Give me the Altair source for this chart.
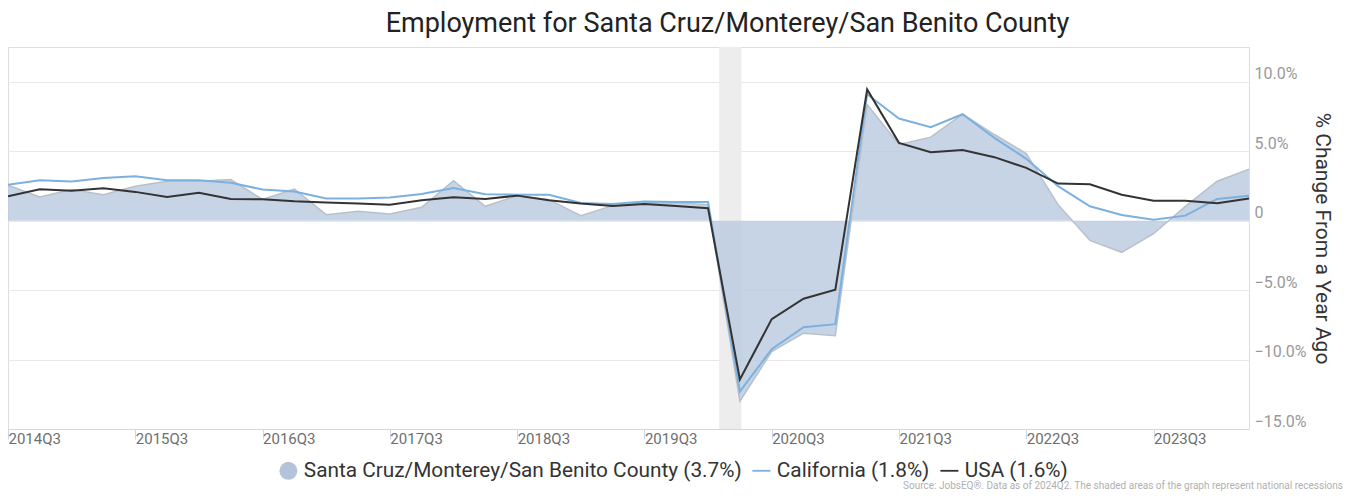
import altair as alt
import pandas as pd

quarters = [
    "2014Q3", "2014Q4", "2015Q1", "2015Q2", "2015Q3", "2015Q4", "2016Q1", "2016Q2",
    "2016Q3", "2016Q4", "2017Q1", "2017Q2", "2017Q3", "2017Q4", "2018Q1", "2018Q2",
    "2018Q3", "2018Q4", "2019Q1", "2019Q2", "2019Q3", "2019Q4", "2020Q1", "2020Q2",
    "2020Q3", "2020Q4", "2021Q1", "2021Q2", "2021Q3", "2021Q4", "2022Q1", "2022Q2",
    "2022Q3", "2022Q4", "2023Q1", "2023Q2", "2023Q3", "2023Q4", "2024Q1", "2024Q2",
]

county = [
    2.55, 1.71, 2.24, 1.87, 2.48, 2.84, 2.84, 2.96, 1.53, 2.28,
    0.43, 0.67, 0.48, 0.96, 2.88, 1.03, 1.80, 1.51, 0.36, 1.08,
    1.27, 1.28, 1.15, -13.0, -9.42, -8.1, -8.29, 8.36, 5.48, 6.01,
    7.66, 6.20, 4.83, 1.15, -1.42, -2.28, -0.94, 1.03, 2.84, 3.7,
]
california = [
    2.58, 2.91, 2.82, 3.07, 3.19, 2.91, 2.91, 2.72, 2.24, 2.10,
    1.59, 1.59, 1.66, 1.92, 2.35, 1.90, 1.87, 1.87, 1.27, 1.20,
    1.37, 1.35, 1.35, -12.3, -9.25, -7.67, -7.45, 9.1, 7.35, 6.73,
    7.66, 5.96, 4.45, 2.48, 1.03, 0.41, 0.07, 0.36, 1.56, 1.8,
]
usa = [
    1.75, 2.26, 2.16, 2.33, 2.07, 1.71, 2.00, 1.56, 1.54, 1.39,
    1.30, 1.24, 1.14, 1.47, 1.68, 1.56, 1.80, 1.47, 1.23, 1.06,
    1.20, 1.06, 0.90, -11.44, -7.09, -5.62, -4.97, 9.44, 5.60, 4.93,
    5.09, 4.57, 3.80, 2.67, 2.62, 1.87, 1.44, 1.44, 1.25, 1.6,
]

series_names = [
    "Santa Cruz/Monterey/San Benito County (3.7%)",
    "California (1.8%)",
    "USA (1.6%)",
]
series_colors = ["#b3c4da", "#7cb0de", "#333333"]

# national recession (Feb-Apr 2020) in quarter-index units
rec_start = [22.35]
rec_end = [23.05]

x_tick_values = [0, 4, 8, 12, 16, 20, 24, 28, 32, 36]
y_tick_values = [-15, -12.5, -10, -7.5, -5, -2.5, 0, 2.5, 5, 7.5, 10, 12.5]

title_text = "Employment for Santa Cruz/Monterey/San Benito County"
y_title = "% Change From a Year Ago"
source_text = ("Source: JobsEQ\u00ae. Data as of 2024Q2. The shaded areas of the graph "
               "represent national recessions")

FONT = "Roboto"

df = pd.DataFrame({
    "idx": list(range(len(quarters))),
    "quarter": quarters,
    "county": county,
    "california": california,
    "usa": usa,
})
legend_df = pd.DataFrame({"series": series_names})
rec_df = pd.DataFrame({"start": rec_start, "end": rec_end})
src_df = pd.DataFrame({"t": [source_text]})

quarter_js = "[" + ",".join("'" + q + "'" for q in quarters) + "]"

x_scale = alt.Scale(domain=[0, len(quarters) - 1], nice=False, zero=False)
y_scale = alt.Scale(domain=[-15, 12.5], nice=False, zero=False)

x_axis = alt.Axis(
    values=x_tick_values,
    labelExpr=quarter_js + "[datum.value]",
    labelAlign="left",
    labelFont=FONT,
    labelFontSize=15,
    labelColor="#6e6e6e",
    labelPadding=-8,
    tickSize=10,
    tickColor="#ccd6eb",
    domainColor="#ccd6eb",
    grid=False,
    title=None,
    labelFlush=False,
    labelOverlap=False,
)
y_axis = alt.Axis(
    orient="right",
    values=y_tick_values,
    labelExpr="datum.value % 5 != 0 ? '' : (datum.value == 0 ? '0' : format(datum.value, '.1f') + '%')",
    labelBaseline="bottom",
    labelFont=FONT,
    labelFontSize=16,
    labelColor="#999999",
    labelPadding=5,
    tickSize=0,
    domain=False,
    grid=True,
    gridColor="#e8e8e8",
    title=y_title,
    titleFont=FONT,
    titleFontSize=21,
    titleFontWeight="normal",
    titleColor="#333333",
    titlePadding=5,
    labelFlush=False,
    labelOverlap=False,
)

base = alt.Chart(df)

band = alt.Chart(rec_df).mark_rect(color="#ededed").encode(
    x=alt.X("start:Q", scale=x_scale, axis=x_axis),
    x2="end:Q",
    y=alt.value(0),
    y2=alt.value(382),
)

area = base.mark_area(
    color="#b8c9de", opacity=0.8,
    line={"color": "#b9c0ca", "strokeWidth": 1.5},
).encode(
    x=alt.X("idx:Q", scale=x_scale, axis=x_axis),
    y=alt.Y("county:Q", scale=y_scale, axis=y_axis),
)

ca_line = base.mark_line(color="#7cb0de", strokeWidth=2).encode(
    x=alt.X("idx:Q", scale=x_scale),
    y=alt.Y("california:Q", scale=y_scale),
)

us_line = base.mark_line(color="#333333", strokeWidth=2).encode(
    x=alt.X("idx:Q", scale=x_scale),
    y=alt.Y("usa:Q", scale=y_scale),
)

dash = "M-1,-0.1L1,-0.1L1,0.1L-1,0.1Z"
leg = dict(
    title=None,
    orient="none",
    direction="horizontal",
    legendX=270,
    legendY=413,
    symbolSize=324,
    symbolStrokeWidth=0,
    labelFont=FONT,
    labelFontSize=20.8,
    labelColor="#333333",
    labelOffset=5,
    columnPadding=9,
    labelLimit=600,
)
legend_layer = alt.Chart(legend_df).transform_filter("false").mark_point(
    filled=True, opacity=1
).encode(
    color=alt.Color(
        "series:N",
        scale=alt.Scale(domain=series_names, range=series_colors),
        legend=alt.Legend(**leg),
    ),
    shape=alt.Shape(
        "series:N",
        scale=alt.Scale(domain=series_names, range=["circle", dash, dash]),
        legend=alt.Legend(**leg),
    ),
)

source = alt.Chart(src_df).mark_text(
    align="right", baseline="bottom", font=FONT, fontSize=10, color="#b0b0b0"
).encode(
    text="t:N",
    x=alt.value(1335),
    y=alt.value(444),
)

chart = alt.layer(band, area, ca_line, us_line, legend_layer, source).properties(
    width=1241,
    height=382,
    autosize=alt.AutoSizeParams(type="none"),
    padding={"left": 0, "top": 39, "right": 96, "bottom": 63},
    title=alt.TitleParams(
        title_text,
        font=FONT,
        fontSize=27,
        fontWeight="normal",
        color="#222222",
        anchor="middle",
        frame="group",
        dx=99,
        offset=9,
    ),
).configure_view(stroke=None).configure(background="white")

chart.save("out.html", embed_options={"renderer": "svg", "actions": False})
